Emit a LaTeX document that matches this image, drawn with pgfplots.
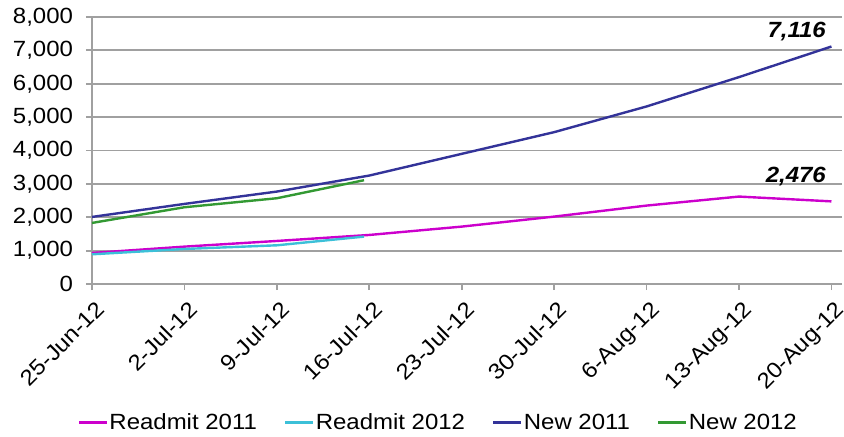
\documentclass[border=0pt]{standalone}
\usepackage{fontspec}
\setmainfont{Liberation Sans}[FakeStretch=1.09]
\usepackage{pgfplots}
\pgfplotsset{compat=1.18}
\definecolor{cReadA}{HTML}{CC00CC}
\definecolor{cReadB}{HTML}{3CC0D8}
\definecolor{cNewA}{HTML}{333399}
\definecolor{cNewB}{HTML}{339933}
\definecolor{gridgray}{HTML}{A0A0A0}

\begin{document}
\begin{tikzpicture}
\useasboundingbox (-46pt,-76pt) rectangle (376pt,142pt);
\begin{axis}[
  at={(0pt,0pt)}, anchor=south west,
  scale only axis, width=375pt, height=133.5pt,
  xmin=0, xmax=56.8, ymin=0, ymax=8000,
  axis x line*=bottom, axis y line*=left,
  axis line style={-, gridgray, line width=0.9pt},
  ymajorgrids, grid style={gridgray, line width=0.9pt},
  tick style={gridgray, line width=0.9pt},
  tick align=outside, major tick length=3pt,
  xtick={0,7,...,56},
  xticklabels={25-Jun-12,2-Jul-12,9-Jul-12,16-Jul-12,23-Jul-12,30-Jul-12,6-Aug-12,13-Aug-12,20-Aug-12},
  ytick={0,1000,...,8000},
  /pgf/number format/1000 sep={,},
  /pgf/number format/assume math mode=true,
  font=\fontsize{11}{13}\selectfont,
  yticklabel style={xshift=-3pt},
  xticklabel style={xshift=1.5pt, yshift=-4pt, rotate=45, anchor=north east, inner sep=0.5pt},
  legend style={at={(0.461,-0.52)}, anchor=center, draw=none, fill=none,
    legend columns=4, font=\fontsize{11}{13}\selectfont,
    nodes={inner sep=0.5pt},
    /tikz/every odd column/.append style={column sep=0pt},
    /tikz/every even column/.append style={column sep=13pt}},
  legend image code/.code={\draw[#1, line width=1.4pt] (0pt,0pt) -- (14pt,0pt);},
]
\addplot[cReadA, line width=1.2pt] coordinates {
  (0,930) (7,1120) (14,1290) (21,1470) (28,1720) (35,2020) (42,2350) (49,2620) (56,2476)
};
\addlegendentry{Readmit 2011}
\addplot[cReadB, line width=1.2pt] coordinates {
  (0,890) (7,1050) (14,1160) (20.6,1420)
};
\addlegendentry{Readmit 2012}
\addplot[cNewA, line width=1.2pt] coordinates {
  (0,2010) (7,2400) (14,2770) (21,3250) (28,3900) (35,4550) (42,5320) (49,6200) (56,7116)
};
\addlegendentry{New 2011}
\addplot[cNewB, line width=1.2pt] coordinates {
  (0,1830) (7,2300) (14,2570) (20.6,3110)
};
\addlegendentry{New 2012}
\node[anchor=base east, inner sep=0pt, font=\fontsize{11}{13}\selectfont\bfseries\itshape] at (axis cs:55.6,7400) {7,116};
\node[anchor=base east, inner sep=0pt, font=\fontsize{11}{13}\selectfont\bfseries\itshape] at (axis cs:55.6,3030) {2,476};
\end{axis}
\end{tikzpicture}
\end{document}
